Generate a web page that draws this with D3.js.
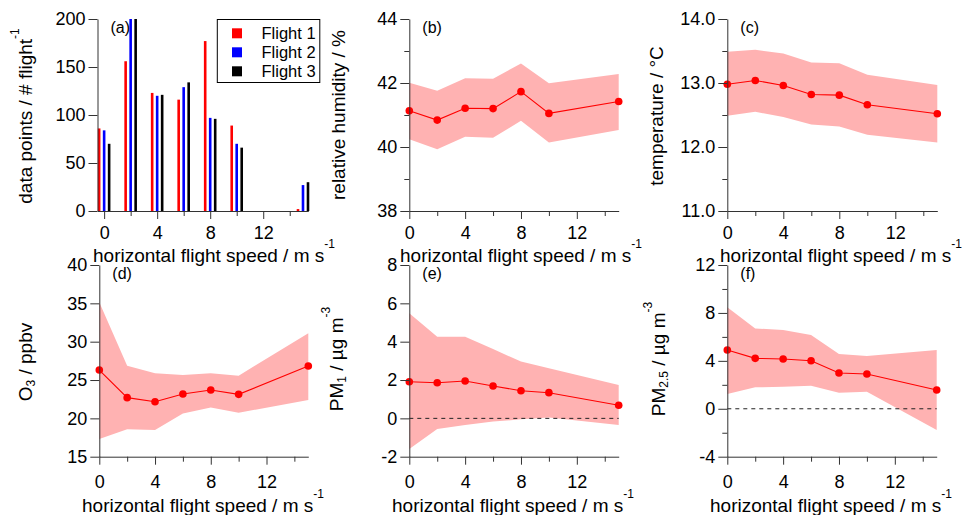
<!DOCTYPE html>
<html><head><meta charset="utf-8">
<script src="https://cdn.jsdelivr.net/npm/d3@7"></script>
<style>
body{margin:0;background:#fff;}
svg{display:block;font-family:"Liberation Sans",Arial,Helvetica,sans-serif;}
</style>
</head><body>
<svg id="chart" width="965" height="515"></svg>
<script>
// ---------------- data ----------------
const speedBins = [0, 2, 4, 6, 8, 10, 15];
const flightNames = ["Flight 1", "Flight 2", "Flight 3"];
const countsFlight1 = [86, 156, 123, 116, 177, 89, 2];
const countsFlight2 = [84, 200, 120, 129, 97, 70, 27];
const countsFlight3 = [70, 200, 121, 134, 96, 66, 30];

const rhMean  = [41.13, 40.84, 41.21, 41.20, 41.73, 41.05, 41.42];
const rhUpper = [42.01, 41.76, 42.15, 42.13, 42.61, 41.99, 42.28];
const rhLower = [40.24, 39.93, 40.32, 40.29, 40.82, 40.14, 40.53];

const tMean  = [12.98, 13.04, 12.96, 12.82, 12.81, 12.66, 12.52];
const tUpper = [13.49, 13.52, 13.46, 13.32, 13.31, 13.13, 12.97];
const tLower = [12.49, 12.55, 12.47, 12.35, 12.32, 12.19, 12.07];

const o3Mean  = [26.30, 22.70, 22.17, 23.17, 23.70, 23.13, 26.83];
const o3Upper = [35.13, 26.87, 25.87, 25.65, 25.87, 25.57, 31.09];
const o3Lower = [17.30, 18.57, 18.48, 20.65, 21.43, 20.74, 22.39];

const pm1Mean  = [1.91, 1.86, 1.95, 1.69, 1.44, 1.34, 0.68];
const pm1Upper = [5.48, 4.26, 4.26, 3.62, 2.96, 2.61, 1.74];
const pm1Lower = [-1.60, -0.56, -0.35, -0.17, -0.05, 0.05, -0.35];

const pm25Mean  = [4.90, 4.21, 4.15, 4.01, 2.98, 2.90, 1.57];
const pm25Upper = [8.47, 6.71, 6.57, 6.16, 4.57, 4.40, 4.90];
const pm25Lower = [1.23, 1.79, 1.84, 1.93, 1.34, 1.43, -1.77];

const xTickValues = [0, 4, 8, 12];
const xMinorValues = [2, 6, 10, 14];
const xTitle = [{t: "horizontal flight speed / m s"}, {t: "-1", sup: true}];

// ---------------- style ----------------
const AX = "#333";
const RED = "#ff0000";
const BAND = "#ffb2b2";
const flightColors = ["#ff0000", "#0000ff", "#000000"];

const svg = d3.select("#chart");
const fmtInt = v => d3.format("d")(v).replace("\u2212", "-");
const fmt1 = v => d3.format(".1f")(v).replace("\u2212", "-");

function addSegs(text, segs, supRaise, subDrop, smallSize) {
  let cur = 0;
  segs.forEach(s => {
    const target = s.sup ? -supRaise : (s.sub ? subDrop : 0);
    const ts = text.append("tspan").attr("dy", target - cur).text(s.t);
    if (s.sup || s.sub) ts.style("font-size", smallSize + "px");
    cur = target;
  });
}

const panels = [
  {label: "(a)", left: 97.5, right: 308.3, top: 19, bottom: 211, xDomain: [-0.5, 15.4],
   yDomain: [0, 200], yTicks: [0, 50, 100, 150, 200], yMinor: [], fmt: fmtInt,
   yTitle: [{t: "data points / # flight"}, {t: "-1", sup: true}], yTitleX: 32, yTitleY: 116,
   xTitleX: 93, tickBase: 239, titleBase: 261.5, bars: true},
  {label: "(b)", left: 409.3, right: 618.7, top: 19, bottom: 211, xDomain: [0, 15],
   yDomain: [38, 44], yTicks: [38, 40, 42, 44], yMinor: [39, 41, 43], fmt: fmtInt,
   yTitle: [{t: "relative humidity / %"}], yTitleX: 345, yTitleY: 115,
   xTitleX: 400, tickBase: 239, titleBase: 261.5, mean: rhMean, upper: rhUpper, lower: rhLower},
  {label: "(c)", left: 727.3, right: 937.3, top: 19, bottom: 211, xDomain: [0, 15],
   yDomain: [11, 14], yTicks: [11, 12, 13, 14], yMinor: [11.5, 12.5, 13.5], fmt: fmt1,
   yTitle: [{t: "temperature / °C"}], yTitleX: 663, yTitleY: 116,
   xTitleX: 720, tickBase: 239, titleBase: 261.5, mean: tMean, upper: tUpper, lower: tLower},
  {label: "(d)", left: 99.3, right: 308.3, top: 265, bottom: 456.7, xDomain: [0, 15],
   yDomain: [15, 40], yTicks: [15, 20, 25, 30, 35, 40], yMinor: [], fmt: fmtInt,
   yTitle: [{t: "O"}, {t: "3", sub: true}, {t: " / ppbv"}], yTitleX: 32, yTitleY: 362,
   xTitleX: 82, tickBase: 488, titleBase: 511.5, mean: o3Mean, upper: o3Upper, lower: o3Lower},
  {label: "(e)", left: 409.3, right: 618.7, top: 265, bottom: 456.7, xDomain: [0, 15],
   yDomain: [-2, 8], yTicks: [-2, 0, 2, 4, 6, 8], yMinor: [], fmt: fmtInt,
   yTitle: [{t: "PM"}, {t: "1", sub: true}, {t: " / µg m"}, {t: "-3", sup: true}], yTitleX: 343, yTitleY: 359,
   xTitleX: 392, tickBase: 488, titleBase: 511.5, mean: pm1Mean, upper: pm1Upper, lower: pm1Lower, zero: true},
  {label: "(f)", left: 727.3, right: 936.7, top: 265, bottom: 456.7, xDomain: [0, 15],
   yDomain: [-4, 12], yTicks: [-4, 0, 4, 8, 12], yMinor: [-2, 2, 6, 10], fmt: fmtInt,
   yTitle: [{t: "PM"}, {t: "2.5", sub: true}, {t: " / µg m"}, {t: "-3", sup: true}], yTitleX: 665, yTitleY: 359,
   xTitleX: 710, tickBase: 488, titleBase: 511.5, mean: pm25Mean, upper: pm25Upper, lower: pm25Lower, zero: true}
];

panels.forEach(p => {
  const x = d3.scaleLinear().domain(p.xDomain).range([p.left, p.right]);
  const y = d3.scaleLinear().domain(p.yDomain).range([p.bottom, p.top]);
  const g = svg.append("g");

  if (p.bars) {
    const series = [countsFlight1, countsFlight2, countsFlight3];
    const offsets = [-5, 0, 5];
    const bw = 2.6;
    series.forEach((vals, si) => {
      g.selectAll(null).data(speedBins.map((s, i) => ({s, v: vals[i]})))
        .enter().append("rect")
        .attr("x", d => x(d.s) + offsets[si] - bw / 2)
        .attr("width", bw)
        .attr("y", d => y(d.v))
        .attr("height", d => y(0) - y(d.v))
        .attr("fill", flightColors[si]);
    });
  } else {
    const pts = speedBins.map((s, i) => ({s, m: p.mean[i], u: p.upper[i], l: p.lower[i]}));
    g.append("path").datum(pts)
      .attr("d", d3.area().x(d => x(d.s)).y0(d => y(d.l)).y1(d => y(d.u)))
      .attr("fill", BAND);
    if (p.zero) {
      g.append("line")
        .attr("x1", x(p.xDomain[0])).attr("x2", x(p.xDomain[1]))
        .attr("y1", y(0)).attr("y2", y(0))
        .attr("stroke", "#222").attr("stroke-width", 1).attr("stroke-dasharray", "4,4");
    }
    g.append("path").datum(pts)
      .attr("d", d3.line().x(d => x(d.s)).y(d => y(d.m)))
      .attr("fill", "none").attr("stroke", RED).attr("stroke-width", 1.1);
    g.selectAll(null).data(pts).enter().append("circle")
      .attr("cx", d => x(d.s)).attr("cy", d => y(d.m)).attr("r", 3.8).attr("fill", RED);
  }

  // y axis
  g.append("g").attr("transform", `translate(${p.left},0)`)
    .call(d3.axisLeft(y).tickValues(p.yTicks).tickFormat(p.fmt).tickSize(9).tickPadding(3).tickSizeOuter(0));
  if (p.yMinor.length) {
    g.append("g").attr("transform", `translate(${p.left},0)`)
      .call(d3.axisLeft(y).tickValues(p.yMinor).tickFormat("").tickSize(5).tickSizeOuter(0))
      .call(s => s.select(".domain").remove());
  }
  // x axis
  const xa = g.append("g").attr("transform", `translate(0,${p.bottom})`)
    .call(d3.axisBottom(x).tickValues(xTickValues).tickFormat(fmtInt).tickSize(8).tickSizeOuter(0));
  g.append("g").attr("transform", `translate(0,${p.bottom})`)
    .call(d3.axisBottom(x).tickValues(xMinorValues).tickFormat("").tickSize(5).tickSizeOuter(0))
    .call(s => s.select(".domain").remove());
  xa.selectAll(".tick text").attr("y", p.tickBase - p.bottom).attr("dy", 0);

  g.selectAll(".domain, .tick line").attr("stroke", AX).attr("stroke-width", 1);
  g.selectAll(".tick text").attr("fill", "#000").style("font-size", "18px")
    .style("font-family", '"Liberation Sans",Arial,sans-serif');

  // panel label
  g.append("text").attr("x", p.left + 13).attr("y", p.top + 14)
    .style("font-size", "16px").attr("fill", "#000").text(p.label);

  // x title
  const xt = g.append("text").attr("x", p.xTitleX).attr("y", p.titleBase)
    .style("font-size", "19px").attr("fill", "#000");
  addSegs(xt, xTitle, 14, 4, 12);

  // y title
  const yt = g.append("text")
    .attr("transform", `translate(${p.yTitleX},${p.yTitleY}) rotate(-90)`)
    .attr("text-anchor", "middle").style("font-size", "19px").attr("fill", "#000");
  addSegs(yt, p.yTitle, 13, 3, 12);

  // legend for bar panel
  if (p.bars) {
    const lg = g.append("g");
    lg.append("rect").attr("x", 217.3).attr("y", 19.5).attr("width", 102.5).attr("height", 63)
      .attr("fill", "#fff").attr("stroke", "#000").attr("stroke-width", 1);
    flightNames.forEach((n, i) => {
      const cy = 33.3 + i * 19;
      lg.append("rect").attr("x", 232).attr("y", cy - 5).attr("width", 10).attr("height", 10)
        .attr("fill", flightColors[i]);
      lg.append("text").attr("x", 261.5).attr("y", cy + 5.5).style("font-size", "16.5px")
        .attr("fill", "#000").text(n);
    });
  }
});
</script>
</body></html>
